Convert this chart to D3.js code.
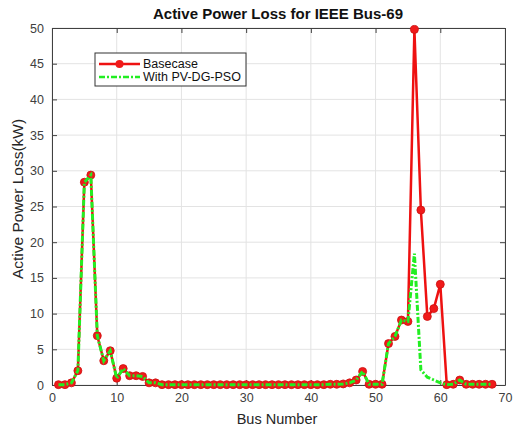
<!DOCTYPE html>
<html><head><meta charset="utf-8">
<script src="https://cdn.jsdelivr.net/npm/d3@7"></script>
<style>body{margin:0;background:#fff}svg{display:block}text{font-family:"Liberation Sans",Arial,sans-serif}</style>
</head><body><svg id="c" width="514" height="434"></svg>
<script>
const buses = d3.range(1, 69);
const basecase = [0.05,0.05,0.3,2.0,28.4,29.4,6.9,3.4,4.8,0.95,2.3,1.3,1.3,1.2,0.3,0.3,
0.05,0.05,0.05,0.05,0.05,0.05,0.05,0.05,0.05,0.05,0.05,0.05,0.05,0.05,0.05,0.05,0.05,0.05,0.05,0.05,0.05,0.05,0.05,0.05,0.05,0.05,
0.1,0.1,0.15,0.3,0.7,1.9,0.1,0.1,0.1,5.8,6.8,9.1,8.9,49.8,24.5,9.6,10.7,14.1,0.05,0.1,0.7,0.1,0.1,0.1,0.1,0.1];
const pvdg = [0.05,0.05,0.3,2.0,28.4,29.4,6.9,3.4,4.8,0.95,2.3,1.3,1.3,1.2,0.3,0.3,
0.05,0.05,0.05,0.05,0.05,0.05,0.05,0.05,0.05,0.05,0.05,0.05,0.05,0.05,0.05,0.05,0.05,0.05,0.05,0.05,0.05,0.05,0.05,0.05,0.05,0.05,
0.1,0.1,0.15,0.3,0.7,1.9,0.1,0.1,0.1,5.8,6.8,9.1,8.9,18.4,2.1,1.1,0.7,0.3,0.05,0.1,0.7,0.1,0.1,0.1,0.1,0.1];
const xTicks = [0,10,20,30,40,50,60,70];
const yTicks = [0,5,10,15,20,25,30,35,40,45,50];
const title = "Active Power Loss for IEEE Bus-69";
const xLabel = "Bus Number";
const yLabel = "Active Power Loss(kW)";
const legendNames = ["Basecase", "With PV-DG-PSO"];

const svg = d3.select("#c");
const L=52, R=505, T=28, B=385;
const x = d3.scaleLinear().domain([0,70]).range([L,R]);
const y = d3.scaleLinear().domain([0,50]).range([B,T]);
const axc = "#404040";

// grid
svg.append("g").selectAll("line").data(xTicks).join("line")
 .attr("x1",d=>x(d)).attr("x2",d=>x(d)).attr("y1",T).attr("y2",B).attr("stroke","#e3e3e3");
svg.append("g").selectAll("line").data(yTicks).join("line")
 .attr("y1",d=>y(d)).attr("y2",d=>y(d)).attr("x1",L).attr("x2",R).attr("stroke","#e3e3e3");

// axes
const fmt = d3.format("d");
const gx = svg.append("g").attr("transform",`translate(0,${B})`).call(d3.axisBottom(x).tickValues(xTicks).tickFormat(fmt).tickSizeInner(-5).tickSizeOuter(0).tickPadding(8));
const gy = svg.append("g").attr("transform",`translate(${L},0)`).call(d3.axisLeft(y).tickValues(yTicks).tickFormat(fmt).tickSizeInner(-5).tickSizeOuter(0).tickPadding(8));
const gx2 = svg.append("g").attr("transform",`translate(0,${T})`).call(d3.axisTop(x).tickValues(xTicks).tickFormat("").tickSizeInner(-5).tickSizeOuter(0));
const gy2 = svg.append("g").attr("transform",`translate(${R},0)`).call(d3.axisRight(y).tickValues(yTicks).tickFormat("").tickSizeInner(-5).tickSizeOuter(0));
[gx,gy,gx2,gy2].forEach(g=>{
  g.select(".domain").attr("stroke",axc);
  g.selectAll(".tick line").attr("stroke",axc);
  g.selectAll("text").attr("fill",axc).style("font-size","12.5px");
});

// lines
const line = (arr)=>d3.line().x((d,i)=>x(buses[i])).y(d=>y(d))(arr);
svg.append("path").attr("d",line(basecase)).attr("fill","none").attr("stroke","#ee1111").attr("stroke-width",2.5);
svg.append("g").selectAll("circle").data(basecase).join("circle")
 .attr("cx",(d,i)=>x(buses[i])).attr("cy",d=>y(d)).attr("r",4).attr("fill","#f01a1a").attr("stroke","#cc1010").attr("stroke-width",0.8);
svg.append("path").attr("d",line(pvdg)).attr("fill","none").attr("stroke","#22ee22").attr("stroke-width",3).attr("stroke-dasharray","6,2,2,2");

// title / labels
svg.append("text").attr("x",278).attr("y",19).attr("text-anchor","middle").style("font-size","15px").style("font-weight","bold").attr("fill","#111").text(title);
svg.append("text").attr("x",277).attr("y",424).attr("text-anchor","middle").style("font-size","14.5px").attr("fill","#262626").text(xLabel);
svg.append("text").attr("transform","translate(23,199) rotate(-90)").attr("text-anchor","middle").style("font-size","15.5px").attr("fill","#262626").text(yLabel);

// legend
const lg = svg.append("g");
lg.append("rect").attr("x",95).attr("y",53).attr("width",151).attr("height",33).attr("fill","#fff").attr("stroke","#333").attr("stroke-width",1);
lg.append("line").attr("x1",99).attr("x2",140).attr("y1",64).attr("y2",64).attr("stroke","#ee1111").attr("stroke-width",2.5);
lg.append("circle").attr("cx",119.5).attr("cy",64).attr("r",4).attr("fill","#f01a1a");
lg.append("line").attr("x1",99).attr("x2",140).attr("y1",77).attr("y2",77).attr("stroke","#22ee22").attr("stroke-width",2.5).attr("stroke-dasharray","6,2,2,2");
lg.selectAll("text.l").data(legendNames).join("text").attr("class","l")
 .attr("x",143).attr("y",(d,i)=>68+i*13).style("font-size","12.5px").attr("fill","#111").text(d=>d);
</script></body></html>
